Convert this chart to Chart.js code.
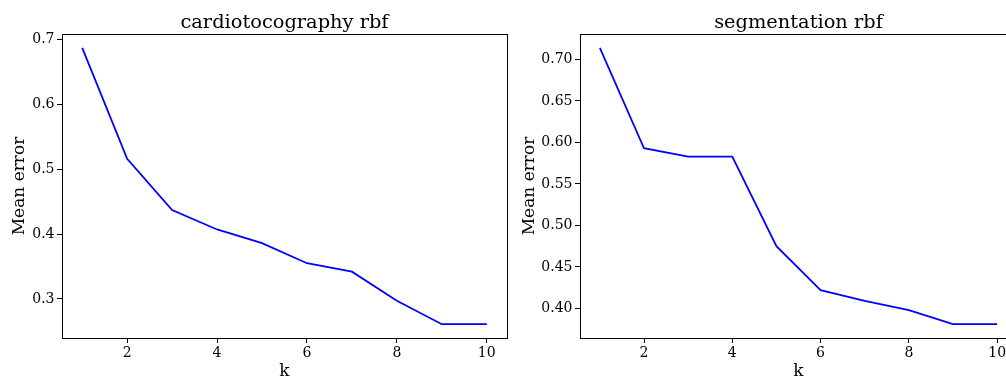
<!DOCTYPE html>
<html lang="en">
<head>
  <meta charset="UTF-8" />
  <title>Mean error vs k</title>
  <script src="https://cdn.jsdelivr.net/npm/chart.js"></script>
  <style>
    html, body {
      margin: 0;
      padding: 0;
      background: #fff;
      overflow: hidden;
      width: 1006px;
      height: 378px;
    }
    canvas {
      position: absolute;
      top: 0;
    }
    #cardioChart { left: 0; }
    #segChart { left: 510px; }
  </style>
</head>
<body>
  <canvas id="cardioChart" width="510" height="384"></canvas>
  <canvas id="segChart" width="510" height="384"></canvas>

  <script>
    const kValues = [1, 2, 3, 4, 5, 6, 7, 8, 9, 10];
    const cardioError = [0.687, 0.516, 0.437, 0.407, 0.386, 0.355, 0.342, 0.297, 0.261, 0.261];
    const segError = [0.714, 0.593, 0.583, 0.583, 0.475, 0.422, 0.409, 0.398, 0.381, 0.381];

    const xTicks = [2, 4, 6, 8, 10];
    const cardioTicks = [0.3, 0.4, 0.5, 0.6, 0.7];
    const segTicks = [0.40, 0.45, 0.50, 0.55, 0.60, 0.65, 0.70];

    const serif = 'DejaVu Serif';

    // matplotlib style box around the axes, title centred over the axes
    const frame = {
      id: 'frame',
      afterDraw(chart, args, opts) {
        const a = chart.chartArea;
        const ctx = chart.ctx;
        ctx.save();
        ctx.strokeStyle = '#000';
        ctx.lineWidth = 1;
        ctx.strokeRect(Math.round(a.left) + 0.5, Math.round(a.top) + 0.5,
          Math.round(a.right - a.left), Math.round(a.bottom - a.top));
        ctx.fillStyle = '#000';
        ctx.font = '19.4px "' + serif + '"';
        ctx.textAlign = 'center';
        ctx.textBaseline = 'alphabetic';
        ctx.fillText(opts.text, (a.left + a.right) / 2, 27.5);
        ctx.restore();
      }
    };

    function pad(arr) {
      const lo = Math.min(...arr), hi = Math.max(...arr);
      const m = (hi - lo) * 0.05;
      return [lo - m, hi + m];
    }

    function makeChart(id, title, values, yTicks, digits, axisWidth) {
      const [yMin, yMax] = pad(values);
      const [xMin, xMax] = pad(kValues);
      return new Chart(document.getElementById(id), {
        type: 'line',
        data: {
          datasets: [{
            data: kValues.map((k, i) => ({ x: k, y: values[i] })),
            borderColor: '#0000ff',
            borderWidth: 1.8,
            pointRadius: 0,
            tension: 0,
            fill: false
          }]
        },
        options: {
          responsive: false,
          animation: false,
          layout: { padding: { left: 0, right: 3, top: 34, bottom: 0 } },
          plugins: {
            legend: { display: false },
            tooltip: { enabled: false },
            title: { display: false },
            frame: { text: title }
          },
          scales: {
            x: {
              type: 'linear',
              min: xMin,
              max: xMax,
              afterBuildTicks: axis => { axis.ticks = xTicks.map(v => ({ value: v })); },
              afterFit: axis => { axis.height = 46; },
              border: { display: false },
              grid: { drawOnChartArea: false, drawTicks: true, tickLength: 5, color: '#000' },
              ticks: {
                color: '#000',
                padding: 2,
                maxRotation: 0,
                font: { family: serif, size: 14 },
                callback: v => String(v)
              },
              title: {
                display: true,
                text: 'k',
                color: '#000',
                font: { family: serif, size: 17 },
                padding: { top: 2, bottom: 2 }
              }
            },
            y: {
              type: 'linear',
              min: yMin,
              max: yMax,
              afterBuildTicks: axis => { axis.ticks = yTicks.map(v => ({ value: v })); },
              afterFit: axis => { axis.width = axisWidth; },
              border: { display: false },
              grid: { drawOnChartArea: false, drawTicks: true, tickLength: 5, color: '#000' },
              ticks: {
                color: '#000',
                padding: 2.5,
                font: { family: serif, size: 14 },
                callback: v => v.toFixed(digits)
              },
              title: {
                display: true,
                text: 'Mean error',
                color: '#000',
                font: { family: serif, size: 17 },
                padding: { top: 9, bottom: 0 }
              }
            }
          }
        },
        plugins: [frame]
      });
    }

    makeChart('cardioChart', 'cardiotocography rbf', cardioError, cardioTicks, 1, 62);
    makeChart('segChart', 'segmentation rbf', segError, segTicks, 2, 70);
  </script>
</body>
</html>
